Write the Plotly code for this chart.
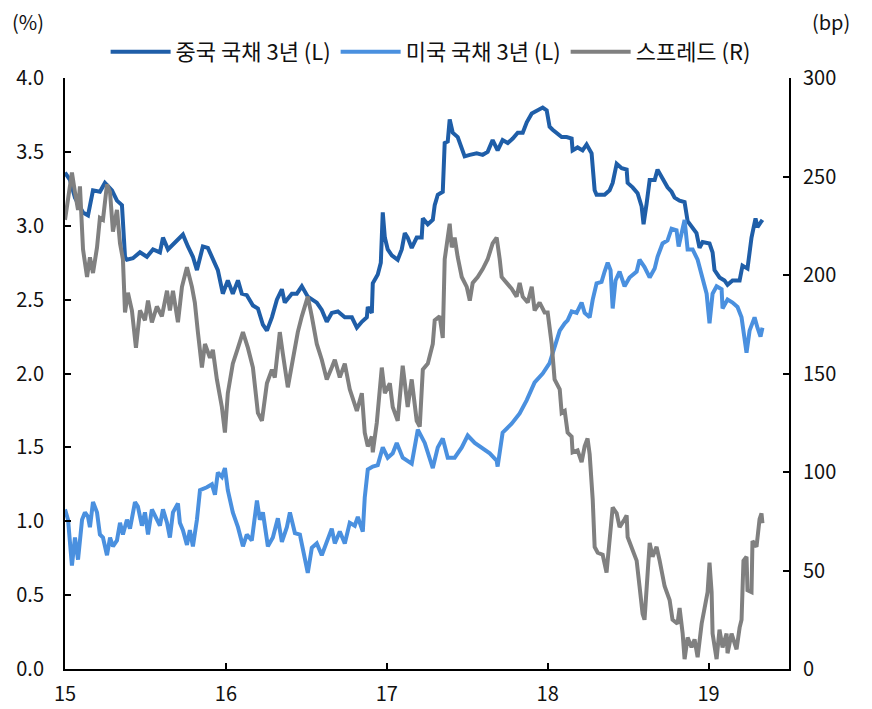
import plotly.graph_objects as go

# ---- China 3Y (left axis, %) ----
cn_x = [15.000, 15.031, 15.062, 15.112, 15.143, 15.174, 15.217, 15.248, 15.292, 15.323,
        15.354, 15.373, 15.385, 15.422, 15.466, 15.509, 15.547, 15.590, 15.609, 15.640,
        15.696, 15.733, 15.764, 15.795, 15.820, 15.857, 15.888, 15.919, 15.950, 15.981,
        16.012, 16.043, 16.075, 16.099, 16.130, 16.168, 16.199, 16.230, 16.255, 16.286,
        16.317, 16.348, 16.366, 16.410, 16.441, 16.472, 16.509, 16.565, 16.596, 16.627,
        16.658, 16.696, 16.739, 16.783, 16.814, 16.845, 16.876, 16.882, 16.907, 16.913,
        16.944, 16.963, 16.975, 16.988, 17.006, 17.031, 17.068, 17.093, 17.112, 17.130,
        17.155, 17.186, 17.217, 17.224, 17.255, 17.286, 17.298, 17.317, 17.348, 17.360,
        17.379, 17.391, 17.410, 17.441, 17.466, 17.484, 17.516, 17.559, 17.596, 17.627,
        17.658, 17.689, 17.720, 17.752, 17.783, 17.814, 17.845, 17.870, 17.901, 17.932,
        17.969, 17.994, 18.012, 18.031, 18.056, 18.087, 18.118, 18.149, 18.155, 18.186,
        18.217, 18.242, 18.273, 18.292, 18.304, 18.354, 18.385, 18.404, 18.429, 18.460,
        18.491, 18.497, 18.528, 18.559, 18.584, 18.596, 18.615, 18.634, 18.665, 18.683,
        18.714, 18.745, 18.770, 18.789, 18.820, 18.851, 18.870, 18.894, 18.925, 18.944,
        18.963, 19.006, 19.025, 19.037, 19.068, 19.099, 19.118, 19.149, 19.193, 19.211,
        19.242, 19.267, 19.292, 19.304, 19.335]
cn_y = [3.36, 3.31, 3.19, 3.09, 3.07, 3.24, 3.23, 3.29, 3.24, 3.17,
        3.14, 2.79, 2.77, 2.78, 2.82, 2.79, 2.84, 2.82, 2.92, 2.84,
        2.90, 2.94, 2.86, 2.79, 2.70, 2.86, 2.85, 2.77, 2.70, 2.54,
        2.63, 2.54, 2.63, 2.54, 2.53, 2.46, 2.44, 2.33, 2.29, 2.38,
        2.50, 2.57, 2.48, 2.54, 2.54, 2.59, 2.52, 2.48, 2.43, 2.35,
        2.41, 2.42, 2.38, 2.38, 2.31, 2.35, 2.38, 2.45, 2.41, 2.61,
        2.67, 2.75, 3.09, 2.92, 2.84, 2.80, 2.77, 2.84, 2.95, 2.92,
        2.85, 2.92, 2.92, 3.05, 3.01, 3.04, 3.14, 3.21, 3.23, 3.56,
        3.57, 3.72, 3.63, 3.60, 3.53, 3.47, 3.48, 3.49, 3.48, 3.50,
        3.58, 3.51, 3.58, 3.56, 3.59, 3.63, 3.63, 3.70, 3.76, 3.78,
        3.80, 3.78, 3.67, 3.65, 3.63, 3.60, 3.60, 3.59, 3.51, 3.53,
        3.51, 3.55, 3.49, 3.24, 3.21, 3.21, 3.24, 3.29, 3.42, 3.39,
        3.38, 3.29, 3.26, 3.22, 3.13, 3.01, 3.15, 3.31, 3.31, 3.38,
        3.32, 3.26, 3.23, 3.19, 3.17, 3.16, 3.03, 2.99, 2.95, 2.85,
        2.89, 2.88, 2.82, 2.70, 2.65, 2.63, 2.60, 2.63, 2.63, 2.73,
        2.71, 2.92, 3.05, 2.99, 3.04]

# ---- US 3Y (left axis, %) ----
us_x = [15.000, 15.019, 15.043, 15.062, 15.081, 15.106, 15.124, 15.143, 15.155, 15.174,
        15.199, 15.217, 15.236, 15.261, 15.280, 15.298, 15.323, 15.342, 15.360, 15.385,
        15.404, 15.435, 15.453, 15.478, 15.497, 15.516, 15.540, 15.571, 15.590, 15.609,
        15.634, 15.652, 15.671, 15.702, 15.714, 15.733, 15.758, 15.776, 15.795, 15.820,
        15.839, 15.882, 15.913, 15.932, 15.950, 15.975, 15.994, 16.012, 16.043, 16.075,
        16.106, 16.130, 16.161, 16.193, 16.211, 16.230, 16.261, 16.292, 16.323, 16.348,
        16.379, 16.398, 16.429, 16.460, 16.478, 16.509, 16.534, 16.565, 16.596, 16.627,
        16.658, 16.677, 16.708, 16.739, 16.770, 16.801, 16.820, 16.851, 16.863, 16.882,
        16.913, 16.944, 16.975, 17.006, 17.037, 17.062, 17.099, 17.155, 17.193, 17.236,
        17.286, 17.317, 17.348, 17.379, 17.422, 17.466, 17.503, 17.547, 17.590, 17.640,
        17.683, 17.689, 17.720, 17.776, 17.826, 17.870, 17.919, 17.969, 18.012, 18.043,
        18.075, 18.106, 18.124, 18.149, 18.180, 18.211, 18.230, 18.261, 18.280, 18.304,
        18.335, 18.354, 18.373, 18.391, 18.404, 18.422, 18.447, 18.478, 18.509, 18.553,
        18.571, 18.602, 18.634, 18.665, 18.683, 18.714, 18.745, 18.770, 18.801, 18.814,
        18.839, 18.851, 18.870, 18.901, 18.932, 18.963, 18.988, 19.006, 19.025, 19.050,
        19.081, 19.087, 19.118, 19.149, 19.180, 19.205, 19.224, 19.236, 19.255, 19.286,
        19.304, 19.323, 19.335]
us_y = [1.08, 1.01, 0.70, 0.89, 0.74, 1.01, 1.06, 1.03, 0.96, 1.13,
        1.06, 0.91, 0.89, 0.77, 0.89, 0.83, 0.87, 0.99, 0.91, 1.01,
        0.95, 1.13, 1.10, 0.97, 1.06, 0.91, 1.08, 1.02, 0.97, 1.08,
        0.99, 0.89, 1.06, 1.12, 0.99, 0.94, 0.84, 0.94, 0.83, 1.01,
        1.21, 1.23, 1.25, 1.18, 1.33, 1.30, 1.36, 1.21, 1.06, 0.96,
        0.83, 0.91, 0.87, 1.14, 1.01, 1.06, 0.83, 0.89, 1.02, 0.86,
        0.96, 1.06, 0.92, 0.91, 0.81, 0.65, 0.82, 0.85, 0.77, 0.87,
        0.95, 0.85, 0.93, 0.85, 0.99, 0.97, 1.03, 0.93, 1.16, 1.35,
        1.37, 1.38, 1.50, 1.43, 1.46, 1.53, 1.43, 1.39, 1.62, 1.53,
        1.36, 1.50, 1.56, 1.43, 1.43, 1.50, 1.58, 1.53, 1.50, 1.46,
        1.41, 1.37, 1.60, 1.66, 1.73, 1.82, 1.94, 2.00, 2.07, 2.18,
        2.29, 2.34, 2.36, 2.42, 2.41, 2.48, 2.41, 2.38, 2.50, 2.61,
        2.62, 2.69, 2.75, 2.70, 2.44, 2.63, 2.69, 2.59, 2.65, 2.69,
        2.77, 2.72, 2.65, 2.71, 2.79, 2.88, 2.90, 2.98, 2.97, 2.86,
        2.99, 3.04, 2.84, 2.84, 2.77, 2.63, 2.54, 2.34, 2.54, 2.59,
        2.57, 2.44, 2.50, 2.48, 2.45, 2.38, 2.21, 2.14, 2.29, 2.38,
        2.31, 2.25, 2.31]

# ---- Spread (right axis, bp) ----
sp_x = [15.000, 15.019, 15.043, 15.062, 15.081, 15.093, 15.112, 15.137, 15.155, 15.174,
        15.199, 15.217, 15.236, 15.261, 15.280, 15.298, 15.323, 15.342, 15.360, 15.373,
        15.391, 15.416, 15.441, 15.466, 15.497, 15.516, 15.540, 15.571, 15.602, 15.634,
        15.652, 15.671, 15.702, 15.727, 15.758, 15.789, 15.807, 15.826, 15.851, 15.870,
        15.901, 15.919, 15.944, 15.975, 15.994, 16.012, 16.043, 16.075, 16.106, 16.137,
        16.168, 16.199, 16.224, 16.255, 16.286, 16.304, 16.335, 16.354, 16.385, 16.416,
        16.447, 16.472, 16.491, 16.509, 16.534, 16.565, 16.596, 16.627, 16.658, 16.677,
        16.708, 16.739, 16.770, 16.789, 16.814, 16.845, 16.863, 16.882, 16.907, 16.913,
        16.938, 16.969, 16.988, 17.019, 17.037, 17.068, 17.099, 17.130, 17.155, 17.186,
        17.205, 17.224, 17.255, 17.286, 17.298, 17.329, 17.348, 17.360, 17.391, 17.404,
        17.422, 17.441, 17.466, 17.497, 17.516, 17.534, 17.565, 17.596, 17.627, 17.658,
        17.683, 17.702, 17.714, 17.745, 17.776, 17.807, 17.826, 17.845, 17.876, 17.901,
        17.919, 17.950, 17.981, 18.000, 18.025, 18.043, 18.075, 18.087, 18.106, 18.124,
        18.149, 18.155, 18.186, 18.211, 18.230, 18.248, 18.261, 18.280, 18.292, 18.311,
        18.342, 18.366, 18.385, 18.404, 18.429, 18.447, 18.478, 18.491, 18.497, 18.528,
        18.553, 18.571, 18.590, 18.602, 18.615, 18.634, 18.652, 18.677, 18.696, 18.727,
        18.758, 18.776, 18.807, 18.820, 18.839, 18.851, 18.870, 18.894, 18.913, 18.932,
        18.957, 18.975, 18.994, 19.006, 19.019, 19.025, 19.050, 19.068, 19.087, 19.112,
        19.118, 19.143, 19.174, 19.193, 19.205, 19.217, 19.236, 19.242, 19.267, 19.273,
        19.298, 19.317, 19.329, 19.335]
sp_y = [228, 240, 252, 242, 233, 245, 213, 199, 209, 201,
        214, 229, 228, 246, 242, 222, 233, 216, 208, 181,
        191, 182, 163, 182, 177, 187, 176, 184, 179, 192,
        182, 192, 176, 194, 204, 194, 186, 171, 153, 165,
        158, 162, 147, 133, 120, 140, 155, 163, 171, 163,
        153, 130, 126, 145, 152, 148, 171, 160, 143, 157,
        171, 179, 184, 189, 179, 165, 157, 147, 153, 157,
        148, 155, 142, 137, 131, 140, 120, 113, 118, 110,
        125, 153, 140, 145, 133, 126, 154, 133, 147, 126,
        123, 152, 155, 165, 177, 179, 168, 208, 226, 214,
        219, 209, 199, 194, 187, 196, 199, 203, 208, 216,
        219, 208, 199, 196, 193, 189, 196, 189, 186, 194,
        182, 186, 181, 181, 165, 147, 142, 130, 131, 120,
        118, 110, 111, 105, 113, 117, 109, 86, 62, 59,
        58, 49, 64, 82, 79, 72, 76, 78, 67, 60,
        55, 42, 28, 25, 42, 64, 57, 62, 55, 42,
        35, 25, 23, 31, 18, 5, 16, 11, 15, 6,
        23, 31, 39, 54, 39, 18, 5, 20, 11, 18,
        8, 18, 10, 21, 25, 55, 57, 40, 39, 65,
        62, 76, 79, 74]

x_tickvals = [15, 16, 17, 18, 19]
x_ticktext = ["15", "16", "17", "18", "19"]

names = ["중국 국채 3년 (L)", "미국 국채 3년 (L)", "스프레드 (R)"]
colors = ["#1f5ea8", "#4a90df", "#808080"]

FONT = "Noto Sans CJK KR"
TICK = dict(family=FONT, size=20, color="#111")

fig = go.Figure()
fig.add_trace(go.Scatter(x=cn_x, y=cn_y, name=names[0], mode="lines",
                         line=dict(color=colors[0], width=4)))
fig.add_trace(go.Scatter(x=us_x, y=us_y, name=names[1], mode="lines",
                         line=dict(color=colors[1], width=4)))
fig.add_trace(go.Scatter(x=sp_x, y=sp_y, name=names[2], mode="lines", yaxis="y2",
                         line=dict(color=colors[2], width=4)))

axis_common = dict(showgrid=False, zeroline=False, showline=True, linecolor="black",
                   linewidth=2, ticks="inside", ticklen=6, tickwidth=2, tickcolor="black",
                   tickfont=TICK, automargin=False)

# page body has an 8px margin, so the figure is sized/offset to compensate
fig.update_layout(
    width=864, height=701,
    margin=dict(l=57, r=83, t=70, b=40, autoexpand=False),
    paper_bgcolor="white", plot_bgcolor="white",
    font=dict(family=FONT, size=20, color="#111"),
    xaxis=dict(range=[15, 19.5], tickvals=x_tickvals, ticktext=x_ticktext,
               ticklabelstandoff=6, **axis_common),
    yaxis=dict(range=[0, 4], dtick=0.5, tickformat=".1f", ticklabelstandoff=15,
               **axis_common),
    yaxis2=dict(range=[0, 300], dtick=50, overlaying="y", side="right",
                ticklabelstandoff=8, **axis_common),
    legend=dict(orientation="h", x=0.505, xanchor="center", y=1.044, yanchor="middle",
                font=dict(family=FONT, size=22, color="#111"),
                bgcolor="rgba(0,0,0,0)", itemwidth=60, tracegroupgap=0),
    showlegend=True,
    annotations=[
        dict(text="(%)", xref="paper", yref="paper", x=-0.076, y=1.095,
             xanchor="left", yanchor="middle", showarrow=False,
             font=dict(family=FONT, size=20, color="#111")),
        dict(text="(bp)", xref="paper", yref="paper", x=1.087, y=1.095,
             xanchor="right", yanchor="middle", showarrow=False,
             font=dict(family=FONT, size=20, color="#111")),
    ],
)

fig.write_html("out.html")
